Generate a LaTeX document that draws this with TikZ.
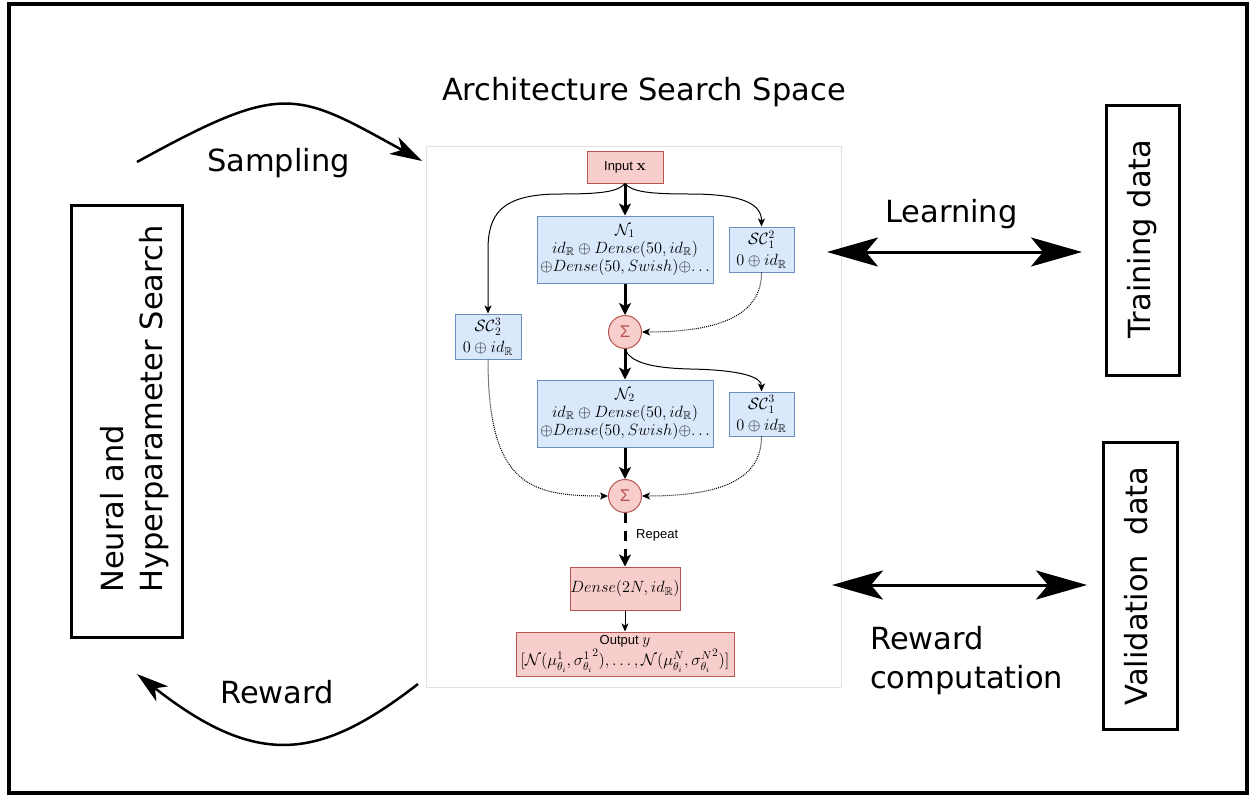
\RequirePackage{fix-cm}
\documentclass[tikz,border=0pt]{standalone}
\usepackage{amsmath,amssymb}
\usepackage[no-math]{fontspec}
\setmainfont{DejaVu Sans}
\newfontfamily\helv{Liberation Sans}
\usetikzlibrary{arrows.meta}
\definecolor{pinkf}{HTML}{F8CECC}
\definecolor{pinkd}{HTML}{B85450}
\definecolor{bluef}{HTML}{DAE8FC}
\definecolor{blued}{HTML}{6C8EBF}
\definecolor{panelc}{HTML}{E2E2E2}
\newcommand\mfont{\fontsize{16.3}{18}\selectfont}
\newcommand\scfont{\fontsize{16.3}{21}\selectfont}
\newcommand\ofont{\fontsize{16.5}{19}\selectfont}
\newcommand\sfont{\helv\fontsize{13}{16}\selectfont}
\tikzset{
  outtxt/.style={font=\fontsize{30.5}{39}\selectfont, inner sep=0pt},
  outbox/.style={draw, line width=3pt, inner sep=0pt},
  outarr/.style={line width=2.5pt, -{Stealth[length=32pt,width=19pt,inset=9pt]}},
  dblarr/.style={line width=3pt, {Stealth[length=51pt,width=29pt,inset=12pt]}-{Stealth[length=51pt,width=29pt,inset=12pt]}},
  pinkbox/.style={draw=pinkd, fill=pinkf, line width=1pt, inner sep=0pt, align=center, font=\mfont},
  bluebox/.style={draw=blued, fill=bluef, line width=1pt, inner sep=0pt, align=center, font=\mfont},
  scbox/.style={bluebox, font=\scfont},
  sumnode/.style={circle, draw=pinkd, fill=pinkf, line width=1pt, minimum size=33pt, inner sep=0pt, text=pinkd, font=\helv\fontsize{17}{17}\selectfont},
  thickarr/.style={line width=3pt, -{Stealth[length=12pt,width=12pt,inset=3pt]}},
  thinarr/.style={line width=1pt, -{Stealth[length=8pt,width=7pt,inset=2pt]}},
  dotarr/.style={thinarr, dash pattern=on 1pt off 1pt}
}
\begin{document}
\begin{tikzpicture}[x=1pt,y=-1pt]
\useasboundingbox (0,0) rectangle (1252,798);
% outer frame
\draw[line width=4pt] (9,3.5) rectangle (1247,793);
% panel of the architecture search space
\draw[panelc, line width=1pt] (426,146) rectangle (841,687);
\node[outtxt, anchor=base] (title) at (644,100) {Architecture Search Space};

% left box
\node[outbox, minimum width=111pt, minimum height=432pt] (search) at (126.5,421) {};
\node[outtxt, rotate=90, align=left] (searchtxt) at (134.5,409) {Neural and\\Hyperparameter Search};
% right boxes
\node[outbox, minimum width=73pt, minimum height=270pt] (train) at (1142.5,240) {};
\node[outtxt, rotate=90] (traintxt) at (1142,239) {Training data};
\node[outbox, minimum width=74pt, minimum height=287pt] (valid) at (1140,585.5) {};
\node[outtxt, rotate=90] (validtxt) at (1136.5,586) {Validation\ \ data};

% outer arrows
\coordinate (samp0) at (137,162);
\coordinate (samp1) at (422,161);
\draw[outarr] (samp0) .. controls (284,81) and (295,91) .. (samp1);
\node[outtxt, anchor=base west] (samptxt) at (207,171.5) {Sampling};
\coordinate (rew0) at (418,684);
\coordinate (rew1) at (137,674);
\draw[outarr] (rew0) .. controls (321,759) and (259,770) .. (rew1);
\node[outtxt, anchor=base west] (rewtxt) at (220,703) {Reward};
\coordinate (lrn0) at (827,252);
\coordinate (lrn1) at (1082,252);
\draw[dblarr] (lrn0) -- (lrn1);
\node[outtxt, anchor=base west] (lrntxt) at (885,222) {Learning};
\coordinate (rc0) at (832,585);
\coordinate (rc1) at (1087,585);
\draw[dblarr] (rc0) -- (rc1);
\node[outtxt, anchor=north west, align=left] (rctxt) at (870,625.8) {Reward\\computation};

% inner diagram
\node[pinkbox, minimum width=76pt, minimum height=32pt, font=\sfont] (in) at (625,167) {Input \fontsize{15.5}{16}\selectfont$\mathbf{x}$};
\node[bluebox, minimum width=176pt, minimum height=67pt] (n1) at (625,249.5)
  {$\mathcal{N}_1$\\$id_{\mathbb{R}}\oplus Dense(50,id_{\mathbb{R}})$\\$\oplus Dense(50,Swish){\oplus}{\ldots}$};
\node[scbox, minimum width=65pt, minimum height=45pt] (sc12) at (761.5,249.5)
  {$\mathcal{SC}_1^2$\\$0\oplus id_{\mathbb{R}}$};
\node[scbox, minimum width=66pt, minimum height=45pt] (sc23) at (488,336.5)
  {$\mathcal{SC}_2^3$\\$0\oplus id_{\mathbb{R}}$};
\node[sumnode] (s1) at (625,332) {Σ};
\node[bluebox, minimum width=176pt, minimum height=67pt] (n2) at (625,413.5)
  {$\mathcal{N}_2$\\$id_{\mathbb{R}}\oplus Dense(50,id_{\mathbb{R}})$\\$\oplus Dense(50,Swish){\oplus}{\ldots}$};
\node[scbox, minimum width=65pt, minimum height=44pt] (sc13) at (761.5,414)
  {$\mathcal{SC}_1^3$\\$0\oplus id_{\mathbb{R}}$};
\node[sumnode] (s2) at (625,496) {Σ};
\node[pinkbox, minimum width=110pt, minimum height=43pt] (dense) at (625,588.5)
  {$Dense(2N,id_{\mathbb{R}})$};
\node[pinkbox, minimum width=218pt, minimum height=44pt, font=\ofont] (out) at (625,654)
  {{\sfont Output \fontsize{15.5}{16}\selectfont$y$}\\$[\mathcal{N}(\mu^1_{\theta_i},{\sigma^1_{\theta_i}}^2),\ldots,\mathcal{N}(\mu^N_{\theta_i},{\sigma^N_{\theta_i}}^2)]$};

% inner connectors
\draw[thickarr] (in) -- (n1);
\draw[thinarr] (in.south) .. controls (632,192) and (650,194) .. (690,194)
  .. controls (745,194) and (761.5,205) .. (sc12.north);
\draw[thinarr] (in.south) .. controls (618,192) and (600,194) .. (560,194)
  .. controls (500,194) and (488,215) .. (488,250) -- (sc23.north);
\draw[thickarr] (n1) -- (s1);
\draw[dotarr] (sc12.south) .. controls (761.5,315) and (720,332) .. (s1.east);
\draw[thickarr] (s1) -- (n2);
\draw[thinarr] (s1.south) .. controls (630,362) and (650,368) .. (690,369)
  .. controls (745,370) and (761.5,378) .. (sc13.north);
\draw[thickarr] (n2) -- (s2);
\draw[dotarr] (sc23.south) .. controls (488,485) and (530,496) .. (s2.west);
\draw[dotarr] (sc13.south) .. controls (761.5,480) and (720,496) .. (s2.east);
\draw[thickarr, dash pattern=on 10pt off 8pt] (s2) -- (dense);
\node[font=\sfont, anchor=base west, inner sep=0pt] (rep) at (636,538.5) {Repeat};
\draw[thinarr] (dense) -- (out);
\end{tikzpicture}
\end{document}
